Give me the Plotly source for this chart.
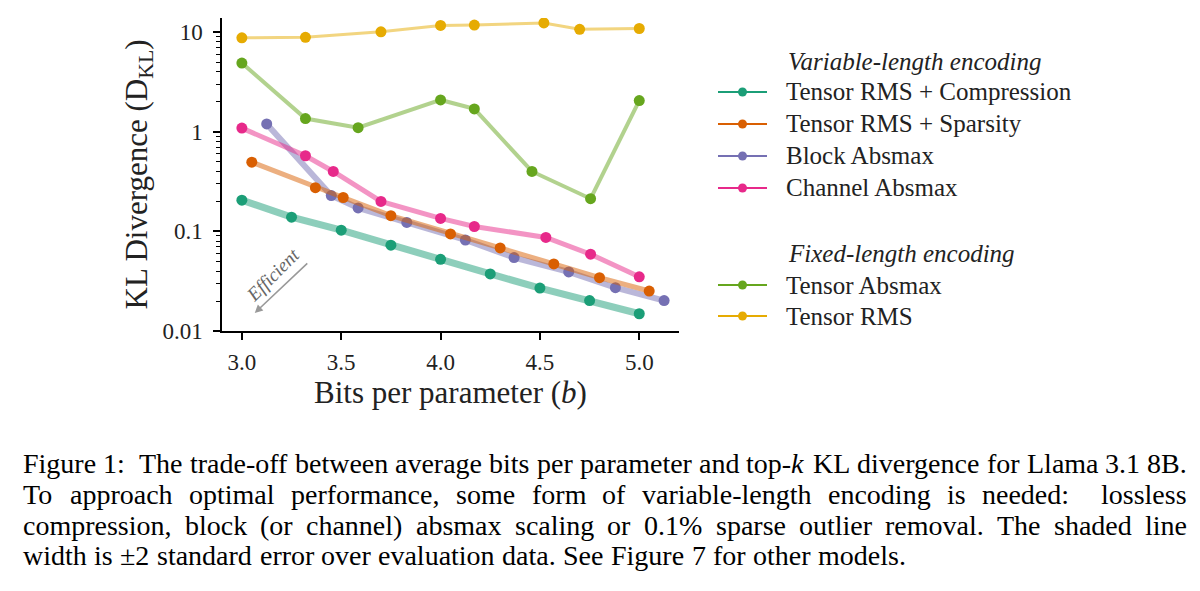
import re
import plotly.graph_objects as go

# --- data --------------------------------------------------------------------
compression_bits = [3.0, 3.25, 3.5, 3.75, 4.0, 4.25, 4.5, 4.75, 5.0]
compression_kl = [0.206, 0.139, 0.103, 0.0727, 0.0525, 0.0374, 0.0270, 0.0202, 0.0149]

sparsity_bits = [3.05, 3.37, 3.51, 3.75, 4.05, 4.30, 4.57, 4.80, 5.05]
sparsity_kl = [0.496, 0.275, 0.219, 0.144, 0.0944, 0.0682, 0.0471, 0.0343, 0.0252]

block_bits = [3.125, 3.45, 3.585, 3.83, 4.125, 4.37, 4.645, 4.88, 5.125]
block_kl = [1.20, 0.229, 0.172, 0.123, 0.082, 0.0546, 0.0392, 0.0272, 0.0202]

channel_bits = [3.0, 3.32, 3.46, 3.70, 4.0, 4.17, 4.53, 4.755, 5.0]
channel_kl = [1.09, 0.575, 0.40, 0.200, 0.135, 0.112, 0.087, 0.059, 0.035]

absmax_bits = [3.0, 3.32, 3.585, 4.0, 4.17, 4.46, 4.755, 5.0]
absmax_kl = [4.9, 1.36, 1.10, 2.09, 1.70, 0.40, 0.213, 2.06]

rms_bits = [3.0, 3.32, 3.70, 4.0, 4.17, 4.52, 4.70, 5.0]
rms_kl = [8.8, 8.9, 10.1, 11.7, 11.8, 12.4, 10.7, 10.9]

y_tickvals = [0.01, 0.1, 1, 10]
y_ticktext = ["0.01", "0.1", "1", "10"]
x_tickvals = [3.0, 3.5, 4.0, 4.5, 5.0]

caption_lines = [
    "Figure 1:  The trade-off between average bits per parameter and top-<i>k</i> KL divergence for Llama 3.1 8B.",
    "To approach optimal performance, some form of variable-length encoding is needed:  lossless",
    "compression, block (or channel) absmax scaling or 0.1% sparse outlier removal. The shaded line",
    "width is \u00b12 standard error over evaluation data. See Figure 7 for other models.",
]

# (name, x, y, colour, band width) -- drawn bottom to top
series = [
    ("Tensor RMS + Compression", compression_bits, compression_kl, "27,158,119", 7),
    ("Block Absmax", block_bits, block_kl, "117,112,179", 6),
    ("Tensor RMS + Sparsity", sparsity_bits, sparsity_kl, "217,95,2", 5),
    ("Channel Absmax", channel_bits, channel_kl, "231,41,138", 5),
    ("Tensor Absmax", absmax_bits, absmax_kl, "102,166,30", 4),
    ("Tensor RMS", rms_bits, rms_kl, "230,171,2", 3),
]
legend_var = ["Tensor RMS + Compression", "Tensor RMS + Sparsity", "Block Absmax", "Channel Absmax"]
legend_fixed = ["Tensor Absmax", "Tensor RMS"]

FONT = "Liberation Serif"
OFF = 8  # page body margin
W, H = 1200 - 2 * OFF, 591 - 2 * OFF
L, R, T, B = 222, 679, 18, 331  # plot area in reference pixels


def px(x, y):
    """reference pixel position -> paper coords"""
    return (x - L) / (R - L), (B - y) / (B - T)


# Times-Roman advance widths (per 1000 em) for justifying the caption
_TIMES = dict(zip(" !\"#$%&'()*+,-./:;?", [250, 333, 408, 500, 500, 833, 778, 333, 333, 333,
                                            500, 564, 250, 333, 250, 278, 278, 278, 444]))
_TIMES.update({c: 500 for c in "0123456789"})
_TIMES.update(zip("ABCDEFGHIJKLMNOPQRSTUVWXYZ",
                  [722, 667, 667, 722, 611, 556, 722, 722, 333, 389, 722, 611, 889,
                   722, 722, 556, 722, 667, 556, 611, 722, 722, 944, 722, 722, 611]))
_TIMES.update(zip("abcdefghijklmnopqrstuvwxyz",
                  [444, 500, 444, 500, 444, 333, 500, 500, 278, 278, 500, 278, 778,
                   500, 500, 500, 500, 333, 389, 278, 500, 500, 722, 500, 500, 444]))
_TIMES["\u00b1"] = 564


def text_width(s, size):
    s = re.sub(r"<[^>]+>", "", s)
    return sum(_TIMES.get(c, 500) for c in s) * size / 1000


fig = go.Figure()

for name, xs, ys, rgb, width in series:
    # shaded band (+-2 s.e.)
    fig.add_trace(
        go.Scatter(
            x=xs,
            y=ys,
            mode="lines",
            line=dict(color=f"rgba({rgb},0.5)", width=width),
            showlegend=False,
            hoverinfo="skip",
        )
    )
    fig.add_trace(
        go.Scatter(
            x=xs,
            y=ys,
            mode="markers",
            name=name,
            marker=dict(color=f"rgb({rgb})", size=11),
            showlegend=False,
        )
    )

axis_common = dict(
    showline=True,
    linecolor="black",
    linewidth=1.5,
    ticks="outside",
    tickcolor="black",
    tickwidth=1.5,
    ticklen=7,
    showgrid=False,
    zeroline=False,
    tickfont=dict(family=FONT, size=23, color="#222"),
)

fig.update_xaxes(
    range=[2.9, 5.2],
    tickvals=x_tickvals,
    ticktext=[f"{v:.1f}" for v in x_tickvals],
    ticklabelstandoff=3,
    title=dict(text="Bits per parameter (<i>b</i>)", font=dict(family=FONT, size=31, color="#222"), standoff=4),
    **axis_common,
)
minor_vals = [m * d for d in (0.01, 0.1, 1, 10) for m in range(2, 10)]
fig.update_yaxes(
    type="log",
    range=[-2, 1.143],
    tickvals=y_tickvals,
    ticktext=y_ticktext,
    ticklabelstandoff=6,
    minor=dict(tickvals=minor_vals, ticks="outside", ticklen=4, tickwidth=1.2, tickcolor="black"),
    title=dict(text="KL Divergence (D<sub>KL</sub>)", font=dict(family=FONT, size=31, color="#222"), standoff=6),
    **axis_common,
)

fig.update_layout(
    width=W,
    height=H,
    margin=dict(l=L - OFF, r=W - (R - OFF), t=T - OFF, b=H - (B - OFF)),
    plot_bgcolor="white",
    paper_bgcolor="white",
    showlegend=False,
)

# legend drawn by hand so its spacing matches the reference
colours = {s[0]: s[3] for s in series}
legend_rows = [(n, 92 + 32 * i) for i, n in enumerate(legend_var)] + \
              [(n, 285 + 31 * i) for i, n in enumerate(legend_fixed)]
for name, ypx in legend_rows:
    x0, yy = px(718, ypx)
    x1, _ = px(767, ypx)
    xm, _ = px(742.5, ypx)
    rgb = colours[name]
    fig.add_shape(type="line", xref="paper", yref="paper", x0=x0, x1=x1, y0=yy, y1=yy,
                  line=dict(color=f"rgb({rgb})", width=2.2))
    fig.add_shape(type="circle", xref="paper", yref="paper", xsizemode="pixel", ysizemode="pixel",
                  xanchor=xm, yanchor=yy, x0=-4.5, x1=4.5, y0=-4.5, y1=4.5,
                  fillcolor=f"rgb({rgb})", line=dict(width=0))
    tx, ty = px(784, ypx)
    fig.add_annotation(x=tx, y=ty, xref="paper", yref="paper", xanchor="left", yanchor="middle",
                       text=name, showarrow=False, font=dict(family=FONT, size=25, color="#222"))

for text, ypx in [("Variable-length encoding", 61), ("Fixed-length encoding", 253)]:
    hx, hy = px(786, ypx)
    fig.add_annotation(
        x=hx, y=hy, xref="paper", yref="paper", xanchor="left", yanchor="middle",
        text=f"<i>{text}</i>", showarrow=False,
        font=dict(family=FONT, size=25, color="#222"),
    )

# "Efficient" arrow
fig.add_annotation(
    x=3.065, y=-1.819, xref="x", yref="y", ax=54, ay=-51,
    text="", showarrow=True, arrowhead=2, arrowsize=1, arrowwidth=1.6, arrowcolor="#999",
)
fig.add_annotation(
    x=3.158, y=-1.437, xref="x", yref="y", text="<i>Efficient</i>", showarrow=False,
    textangle=-45, font=dict(family=FONT, size=19, color="#666"),
)

# caption, justified word by word between the reference margins
CAP_SIZE = 28
CAP_LEFT, CAP_RIGHT = 24, 1188
cap_y = [463, 494, 525, 555]
for i, line in enumerate(caption_lines):
    words = line.split(" ")
    widths = [text_width(w, CAP_SIZE) for w in words]
    if i < len(caption_lines) - 1:
        gap = (CAP_RIGHT - CAP_LEFT - sum(widths)) / (len(words) - 1)
    else:
        gap = 0.25 * CAP_SIZE * 1.05
    xpos = CAP_LEFT
    for w, wd in zip(words, widths):
        if w:
            cx, cy = px(xpos, cap_y[i])
            fig.add_annotation(
                x=cx, y=cy, xref="paper", yref="paper", xanchor="left", yanchor="middle",
                text=w, showarrow=False, xshift=-3,
                font=dict(family=FONT, size=CAP_SIZE, color="black"),
            )
        xpos += wd + gap

fig.write_html("out.html")
